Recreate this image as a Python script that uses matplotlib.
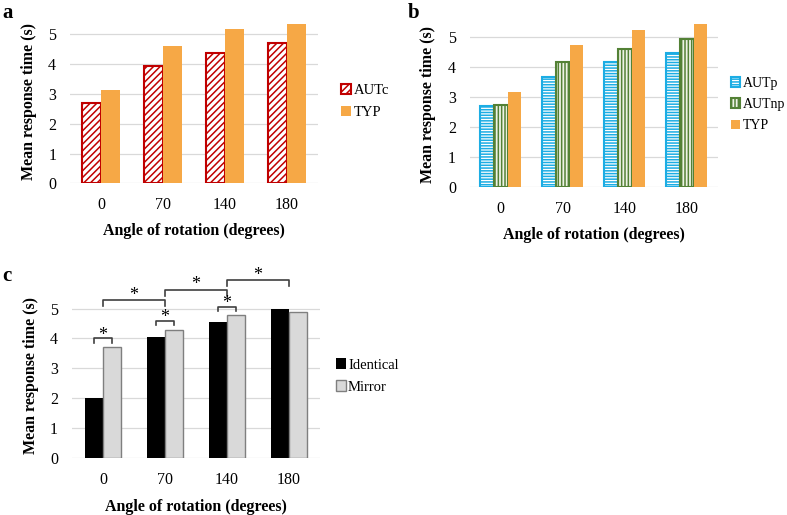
import numpy as np
import matplotlib.pyplot as plt

plt.rcParams['font.family'] = ['Liberation Serif', 'DejaVu Serif']
plt.rcParams['hatch.linewidth'] = 1.1

angles = ['0', '70', '140', '180']

# panel a
autc = [2.70, 3.93, 4.38, 4.72]
typ_a = [3.12, 4.61, 5.17, 5.35]

# panel b
autp = [2.70, 3.68, 4.16, 4.48]
autnp = [2.73, 4.18, 4.61, 4.93]
typ_b = [3.18, 4.73, 5.26, 5.44]

# panel c
identical = [2.00, 4.06, 4.56, 4.97]
mirror = [3.72, 4.30, 4.78, 4.89]

# significance brackets for panel c
within_sig = [(0, 4.00), (1, 4.58), (2, 5.06)]
between_sig = [(0, 1, 5.28), (1, 2, 5.63), (2, 3, 5.94)]

fig = plt.figure(figsize=(7.87, 5.15), dpi=100)
ax_a = fig.add_axes([0.089, 0.644, 0.315, 0.318])
ax_b = fig.add_axes([0.597, 0.6375, 0.315, 0.319])
ax_c = fig.add_axes([0.0915, 0.110, 0.315, 0.320])

x = np.arange(len(angles))


def style(ax):
    ax.set_xlim(-0.5, 3.5)
    ax.set_ylim(0, 5.5)
    ax.set_yticks(range(6))
    ax.set_xticks(x)
    ax.set_xticklabels(angles)
    ax.tick_params(length=0, labelsize=11.5)
    ax.tick_params(axis='y', pad=10)
    ax.tick_params(axis='x', pad=10)
    for s in ax.spines.values():
        s.set_visible(False)
    ax.yaxis.grid(True, color='#d9d9d9', linewidth=0.9)
    ax.set_axisbelow(True)
    ax.set_xlabel('Angle of rotation (degrees)', fontsize=11.5, fontweight='bold')
    ax.set_ylabel('Mean response time (s)', fontsize=11.5, fontweight='bold')
    ax.xaxis.set_label_coords(0.5, -0.245)
    ax.xaxis.label.set_va('top')
    ax.yaxis.set_label_coords(-0.135, 0.5)
    ax.yaxis.label.set_va('bottom')


def legend(ax, xa, fs=10.5):
    ax.legend(loc='center left', bbox_to_anchor=(xa, 0.5), frameon=False,
              fontsize=fs, handlelength=0.7, handleheight=0.7,
              handletextpad=0.15, labelspacing=0.6, borderaxespad=0)


# a
w = 0.30
ax_a.bar(x - w / 2, autc, w, facecolor='white', edgecolor='#c00000',
         hatch='/////', linewidth=1.5, label='AUTc')
ax_a.bar(x + w / 2, typ_a, w, color='#f6a846', label='TYP')
style(ax_a)
legend(ax_a, 1.07)

# b
w = 0.22
ax_b.bar(x - w, autp, w, facecolor='white', edgecolor='#1cade4',
         hatch='------', linewidth=1.5, label='AUTp')
ax_b.bar(x, autnp, w, facecolor='#eef3e6', edgecolor='#538135',
         hatch='|||||', linewidth=1.5, label='AUTnp')
ax_b.bar(x + w, typ_b, w, color='#f6a846', label='TYP')
style(ax_b)
legend(ax_b, 1.03, fs=10)

# c
w = 0.29
ax_c.bar(x - w / 2, identical, w, color='black', label='Identical')
ax_c.bar(x + w / 2, mirror, w, facecolor='#d9d9d9', edgecolor='#7f7f7f',
         linewidth=1.0, label='Mirror')
style(ax_c)
legend(ax_c, 1.04)

bc = '#404040'
for g, lev in within_sig:
    x1, x2 = g - 0.15, g + 0.15
    ax_c.plot([x1, x1, x2, x2], [lev - 0.14, lev, lev, lev - 0.14],
              color=bc, lw=1.2, clip_on=False)
    ax_c.text(g, lev - 0.04, '*', ha='center', va='baseline', fontsize=13)
for g1, g2, lev in between_sig:
    ax_c.plot([g1, g1, g2, g2], [lev - 0.2, lev, lev, lev - 0.2],
              color=bc, lw=1.2, clip_on=False)
    ax_c.text((g1 + g2) / 2, lev + 0.01, '*', ha='center', va='baseline', fontsize=13)

fig.text(0.003, 0.975, 'a', fontsize=15, fontweight='bold', va='center')
fig.text(0.518, 0.975, 'b', fontsize=15, fontweight='bold', va='center')
fig.text(0.003, 0.464, 'c', fontsize=15, fontweight='bold', va='center')

fig.savefig('out.png', dpi=100)
